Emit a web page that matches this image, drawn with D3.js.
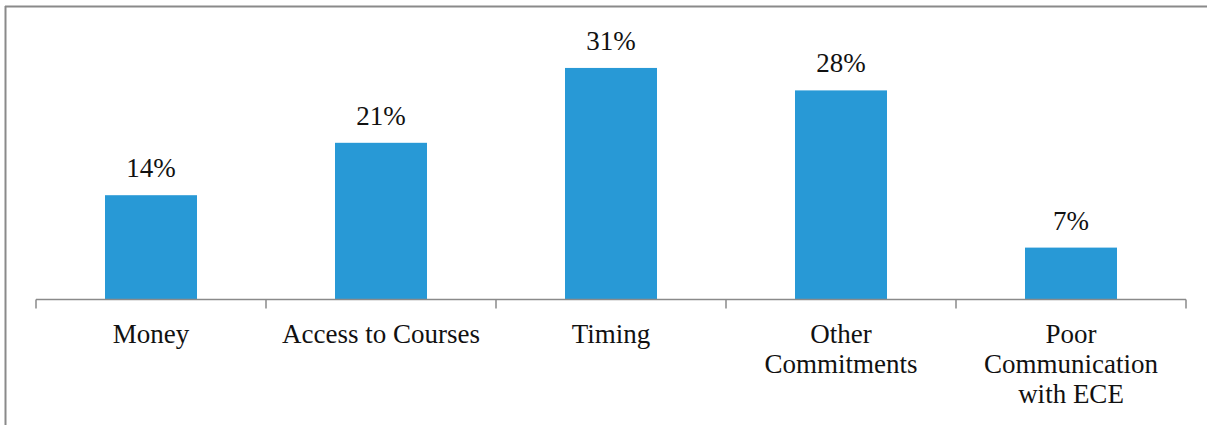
<!DOCTYPE html>
<html>
<head>
<meta charset="utf-8">
<script src="https://cdn.jsdelivr.net/npm/d3@7/dist/d3.min.js"></script>
<style>
  html, body { margin: 0; padding: 0; background: #fff; }
  svg { display: block; }
  text { font-family: "Liberation Serif", "DejaVu Serif", serif; fill: #111; }
</style>
</head>
<body>
<svg id="chart" width="1207" height="425"></svg>
<script>
// Reasons reported, share of responses (%)
const categories = ["Money", "Access to Courses", "Timing", "Other Commitments", "Poor Communication with ECE"];
const categoryLines = [["Money"], ["Access to Courses"], ["Timing"], ["Other", "Commitments"], ["Poor", "Communication", "with ECE"]];
const values = [14, 21, 31, 28, 7];
const valueLabels = ["14%", "21%", "31%", "28%", "7%"];

const W = 1207, H = 425;
const plot = { left: 36, right: 1186, top: 38, bottom: 300 };

const svg = d3.select("#chart");

// Frame (top and left edges)
svg.append("line").attr("x1", 5).attr("x2", W).attr("y1", 6.5).attr("y2", 6.5)
  .attr("stroke", "#8a8a8a").attr("stroke-width", 2);
svg.append("line").attr("x1", 5.5).attr("x2", 5.5).attr("y1", 6).attr("y2", H)
  .attr("stroke", "#8a8a8a").attr("stroke-width", 2);

const x = d3.scaleBand().domain(categories).range([plot.left, plot.right]).padding(0);
const y = d3.scaleLinear().domain([0, 35]).range([plot.bottom, plot.top]);

const barW = x.bandwidth() * 0.4;

// Bars
svg.append("g").selectAll("rect").data(categories).join("rect")
  .attr("x", d => x(d) + (x.bandwidth() - barW) / 2)
  .attr("width", barW)
  .attr("y", (d, i) => y(values[i]))
  .attr("height", (d, i) => y(0) - y(values[i]))
  .attr("fill", "#2899d6");

// Value labels
svg.append("g").selectAll("text").data(categories).join("text")
  .attr("x", d => x(d) + x.bandwidth() / 2)
  .attr("y", (d, i) => y(values[i]) - 18)
  .attr("text-anchor", "middle")
  .attr("font-size", 27)
  .text((d, i) => valueLabels[i]);

// Category axis: baseline with ticks at band boundaries
const axis = svg.append("g");
const y0 = 299.5;
axis.append("line").attr("x1", plot.left).attr("x2", plot.right)
  .attr("y1", y0).attr("y2", y0).attr("stroke", "#8a8a8a").attr("stroke-width", 1.5);
const bounds = categories.map(d => x(d)).concat([x(categories[categories.length - 1]) + x.bandwidth()]);
axis.selectAll("line.tick").data(bounds).join("line").attr("class", "tick")
  .attr("x1", d => d).attr("x2", d => d)
  .attr("y1", y0).attr("y2", y0 + 9)
  .attr("stroke", "#8a8a8a").attr("stroke-width", 1.5);

const labels = axis.selectAll("text").data(categories).join("text")
  .attr("x", d => x(d) + x.bandwidth() / 2)
  .attr("y", 343)
  .attr("text-anchor", "middle")
  .attr("font-size", 27);
labels.each(function(d, i) {
  d3.select(this).selectAll("tspan").data(categoryLines[i]).join("tspan")
    .attr("x", x(d) + x.bandwidth() / 2)
    .attr("dy", (t, j) => j === 0 ? 0 : 30)
    .text(t => t);
});
</script>
</body>
</html>
